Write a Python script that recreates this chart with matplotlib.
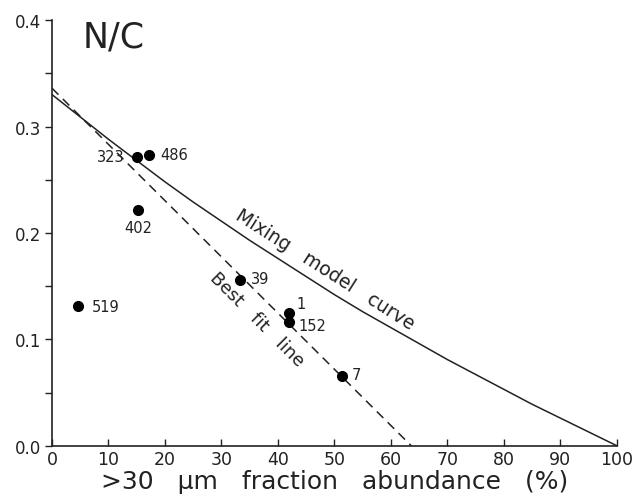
import matplotlib
matplotlib.use("Agg")
import matplotlib.pyplot as plt
from matplotlib.ticker import MultipleLocator, FormatStrFormatter

# Sample points
sample_ids = ["323", "486", "402", "519", "39", "1", "152", "7"]
abundance = [15.1, 17.2, 15.3, 4.6, 33.3, 42.0, 42.0, 51.3]
nc_ratio = [0.271, 0.273, 0.222, 0.131, 0.156, 0.125, 0.116, 0.066]

# Mixing model curve
curve_x = [0, 5, 10, 15, 20, 25, 30, 35, 40, 45, 50, 55, 60, 65, 70, 75, 80, 85, 90, 95, 100]
curve_y = [0.330, 0.309, 0.288, 0.268, 0.248, 0.229, 0.211, 0.193, 0.176, 0.159, 0.142,
           0.126, 0.111, 0.096, 0.081, 0.067, 0.053, 0.039, 0.026, 0.013, 0.0]

# Best fit line endpoints
fit_x = [0, 63.6]
fit_y = [0.336, 0.0]

# Label placement (data coords) and alignment
label_pos = {
    "323": (12.8, 0.272, "right", "center"),
    "486": (19.2, 0.274, "left", "center"),
    "402": (15.3, 0.205, "center", "center"),
    "519": (7.0, 0.131, "left", "center"),
    "39": (35.3, 0.157, "left", "center"),
    "1": (43.2, 0.134, "left", "center"),
    "152": (43.6, 0.113, "left", "center"),
    "7": (53.0, 0.067, "left", "center"),
}

fig = plt.figure(figsize=(6.34, 5.02), dpi=100)
ax = fig.add_axes([0.082, 0.110, 0.891, 0.848])

ax.plot(curve_x, curve_y, color="#222222", lw=1.1, solid_capstyle="butt")
ax.plot(fit_x, fit_y, color="#222222", lw=1.1, ls=(0, (6, 4)))
ax.plot(abundance, nc_ratio, "o", color="black", ms=7, clip_on=False)

for sid in sample_ids:
    x, y, ha, va = label_pos[sid]
    ax.text(x, y, sid, ha=ha, va=va, fontsize=10.5, color="#222222")

ax.text(48.3, 0.166, "Mixing   model   curve", rotation=-32.5, rotation_mode="anchor",
        ha="center", va="center", fontsize=13.5, color="#222222")
ax.text(36.3, 0.119, "Best   fit   line", rotation=-45, rotation_mode="anchor",
        ha="center", va="center", fontsize=13, color="#222222")
ax.text(5.5, 0.385, "N/C", fontsize=25, ha="left", va="center", color="#222222")

ax.set_xlim(0, 100)
ax.set_ylim(0, 0.4)
ax.spines["top"].set_visible(False)
ax.spines["right"].set_visible(False)
for s in ("left", "bottom"):
    ax.spines[s].set_linewidth(1.2)
    ax.spines[s].set_color("#222222")

ax.xaxis.set_major_locator(MultipleLocator(10))
ax.yaxis.set_major_locator(MultipleLocator(0.1))
ax.yaxis.set_minor_locator(MultipleLocator(0.05))
ax.yaxis.set_major_formatter(FormatStrFormatter("%.1f"))
ax.tick_params(axis="x", direction="in", length=5, width=1.0, labelsize=12.5, pad=3, colors="#222222")
ax.tick_params(axis="y", which="both", direction="out", length=5, width=1.0, labelsize=12, pad=3, colors="#222222")

ax.set_xlabel(">30   µm   fraction   abundance   (%)", fontsize=18, labelpad=1, color="#222222")

fig.savefig("out.png", dpi=100)
